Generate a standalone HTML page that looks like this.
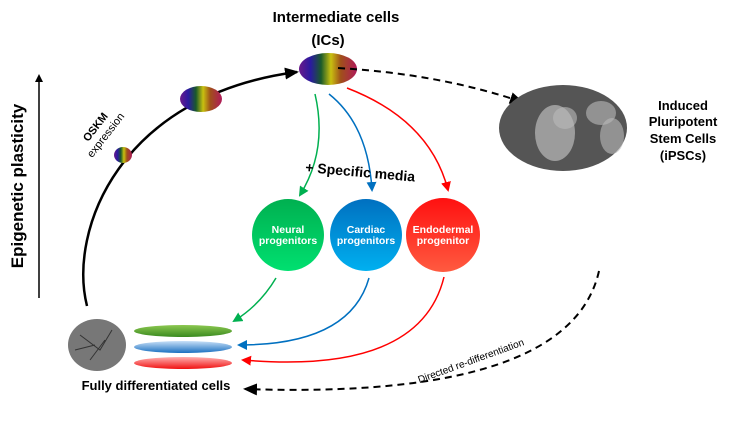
<!DOCTYPE html>
<html><head><meta charset="utf-8"><style>
body{margin:0;background:#fff;}
svg{display:block;font-family:"Liberation Sans",sans-serif;font-weight:bold;}
</style></head><body>
<svg width="732" height="432" viewBox="0 0 732 432" xmlns="http://www.w3.org/2000/svg">
<defs>
<linearGradient id="rb" x1="0" x2="1" y1="0" y2="0">
<stop offset="0" stop-color="#6a1a8a"/><stop offset="0.2" stop-color="#2a1aa0"/><stop offset="0.38" stop-color="#1a5a2a"/><stop offset="0.55" stop-color="#c8c010"/><stop offset="0.72" stop-color="#a0501a"/><stop offset="1" stop-color="#b01a5a"/>
</linearGradient>
<linearGradient id="gg" x1="0" x2="0" y1="0" y2="1"><stop offset="0" stop-color="#00b050"/><stop offset="1" stop-color="#00e070"/></linearGradient>
<linearGradient id="bg" x1="0" x2="0" y1="0" y2="1"><stop offset="0" stop-color="#0070c0"/><stop offset="1" stop-color="#00b0f0"/></linearGradient>
<linearGradient id="rg" x1="0" x2="0" y1="0" y2="1"><stop offset="0" stop-color="#ff1010"/><stop offset="1" stop-color="#ff5a40"/></linearGradient>
<linearGradient id="e1" x1="0" x2="0" y1="0" y2="1"><stop offset="0" stop-color="#8cc850"/><stop offset="1" stop-color="#3a8a20"/></linearGradient>
<linearGradient id="e2" x1="0" x2="0" y1="0" y2="1"><stop offset="0" stop-color="#c8e0f8"/><stop offset="1" stop-color="#1a70c0"/></linearGradient>
<linearGradient id="e3" x1="0" x2="0" y1="0" y2="1"><stop offset="0" stop-color="#ffb0b0"/><stop offset="1" stop-color="#f01010"/></linearGradient>
<marker id="ak" markerWidth="8" markerHeight="8" refX="6" refY="4" orient="auto" markerUnits="userSpaceOnUse"><path d="M0,0L8,4L0,8Z" fill="#000"/></marker>
<marker id="ak2" markerWidth="14" markerHeight="12" refX="12" refY="6" orient="auto" markerUnits="userSpaceOnUse"><path d="M0,0L14,6L0,12Z" fill="#000"/></marker>
<marker id="ag" markerWidth="10" markerHeight="10" refX="8" refY="5" orient="auto" markerUnits="userSpaceOnUse"><path d="M0,0L10,5L0,10Z" fill="#00b050"/></marker>
<marker id="ab" markerWidth="10" markerHeight="10" refX="8" refY="5" orient="auto" markerUnits="userSpaceOnUse"><path d="M0,0L10,5L0,10Z" fill="#0070c0"/></marker>
<marker id="ar" markerWidth="10" markerHeight="10" refX="8" refY="5" orient="auto" markerUnits="userSpaceOnUse"><path d="M0,0L10,5L0,10Z" fill="#f00"/></marker>
</defs>

<!-- axis -->
<line x1="39" y1="298" x2="39" y2="76" stroke="#000" stroke-width="1.5" marker-end="url(#ak)"/>
<text transform="translate(23,186) rotate(-90)" text-anchor="middle" font-size="17">Epigenetic plasticity</text>

<!-- main arc -->
<path d="M87,306 C68,230 120,95 297,72" fill="none" stroke="#000" stroke-width="2.5" marker-end="url(#ak2)"/>
<ellipse cx="123" cy="155" rx="9" ry="8" fill="url(#rb)"/>
<ellipse cx="201" cy="99" rx="21" ry="13" fill="url(#rb)"/>
<ellipse cx="328" cy="69" rx="29" ry="16" fill="url(#rb)"/>
<text transform="translate(103,133) rotate(-52)" text-anchor="middle" font-size="11" font-weight="normal"><tspan x="0" y="-6" font-weight="bold">OSKM</tspan><tspan x="0" y="7">expression</tspan></text>

<text x="336" y="22" text-anchor="middle" font-size="15">Intermediate cells</text>
<text x="328" y="45" text-anchor="middle" font-size="15">(ICs)</text>

<!-- dashed to iPSC -->
<path d="M338,68 Q440,74 522,102" fill="none" stroke="#000" stroke-width="2" stroke-dasharray="7,5" marker-end="url(#ak2)"/>
<ellipse cx="563" cy="128" rx="64" ry="43" fill="#555"/>
<ellipse cx="555" cy="133" rx="20" ry="28" fill="#bbb" opacity="0.7"/>
<ellipse cx="565" cy="118" rx="12" ry="11" fill="#bbb" opacity="0.6"/>
<ellipse cx="601" cy="113" rx="15" ry="12" fill="#bbb" opacity="0.6"/>
<ellipse cx="612" cy="136" rx="12" ry="18" fill="#bbb" opacity="0.6"/>
<g font-size="13" text-anchor="middle"><text x="683" y="110">Induced</text><text x="683" y="126">Pluripotent</text><text x="683" y="143">Stem Cells</text><text x="683" y="160">(iPSCs)</text></g>

<!-- IC to progenitors -->
<path d="M315,94 Q328,150 300,195" fill="none" stroke="#00b050" stroke-width="1.5" marker-end="url(#ag)"/>
<path d="M329,94 Q368,125 372,190" fill="none" stroke="#0070c0" stroke-width="1.5" marker-end="url(#ab)"/>
<path d="M347,88 Q430,120 448,190" fill="none" stroke="#f00" stroke-width="1.5" marker-end="url(#ar)"/>
<text transform="translate(305,172) rotate(5)" font-size="14">+ Specific media</text>

<circle cx="288" cy="235" r="36" fill="url(#gg)"/>
<circle cx="366" cy="235" r="36" fill="url(#bg)"/>
<circle cx="443" cy="235" r="37" fill="url(#rg)"/>
<g fill="#fff" font-size="10.5" text-anchor="middle">
<text x="288" y="233">Neural</text><text x="288" y="244">progenitors</text>
<text x="366" y="233">Cardiac</text><text x="366" y="244">progenitors</text>
<text x="443" y="233">Endodermal</text><text x="443" y="244">progenitor</text>
</g>

<!-- back arrows -->
<path d="M276,278 Q260,305 234,321" fill="none" stroke="#00b050" stroke-width="1.5" marker-end="url(#ag)"/>
<path d="M369,278 Q350,345 239,345" fill="none" stroke="#0070c0" stroke-width="1.5" marker-end="url(#ab)"/>
<path d="M444,277 Q420,375 243,360" fill="none" stroke="#f00" stroke-width="1.5" marker-end="url(#ar)"/>

<!-- diff cells -->
<ellipse cx="97" cy="345" rx="29" ry="26" fill="#777"/>
<path d="M80,335 L100,350 L112,330 M90,360 L105,340 M75,350 L95,345" stroke="#333" fill="none"/>
<ellipse cx="183" cy="331" rx="49" ry="6" fill="url(#e1)"/>
<ellipse cx="183" cy="347" rx="49" ry="6" fill="url(#e2)"/>
<ellipse cx="183" cy="363" rx="49" ry="6" fill="url(#e3)"/>
<text x="156" y="390" text-anchor="middle" font-size="13">Fully differentiated cells</text>

<!-- dashed return -->
<path d="M599,271 Q570,400 245,389" fill="none" stroke="#000" stroke-width="2" stroke-dasharray="7,5" marker-end="url(#ak2)"/>
<text transform="translate(472,364) rotate(-20)" text-anchor="middle" font-size="10" font-weight="normal">Directed re-differentiation</text>
</svg>
</body></html>
